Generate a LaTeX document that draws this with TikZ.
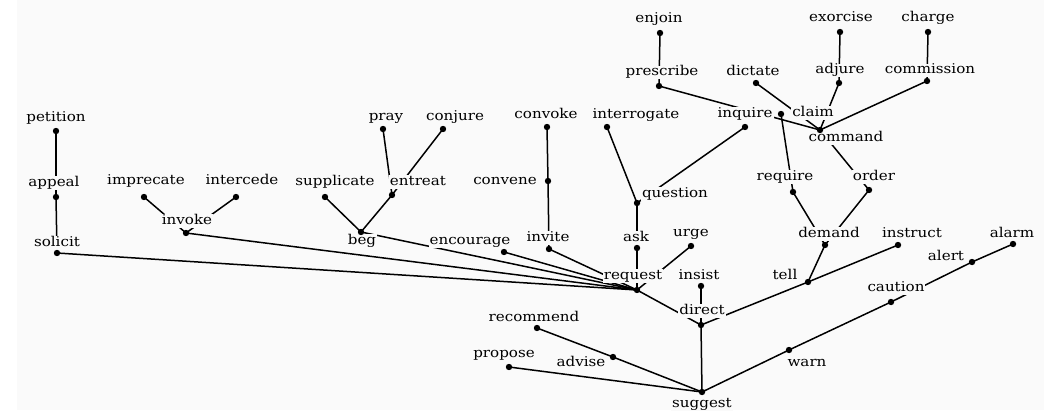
\documentclass[tikz,border=0pt]{standalone}
\usepackage{fontspec}
\setmainfont[FakeStretch=1.12]{DejaVu Serif}
\definecolor{bg}{RGB}{250,250,250}
\begin{document}
\begin{tikzpicture}[x=1pt,y=-1pt,
  lab/.style={fill=bg,inner xsep=1pt,inner ysep=0.5pt,text height=9.5pt,text depth=3pt,anchor=base,font=\fontsize{13.5}{14}\selectfont},
  link/.style={line width=1.5pt},
  dot/.style={fill=black}]
\useasboundingbox (0,0) rectangle (1044,412);
\fill[bg] (17,0) rectangle (1044,410);
% dot positions
\coordinate (dpetition) at (56,131);
\coordinate (dappeal) at (56,197);
\coordinate (dsolicit) at (57,253);
\coordinate (dimprecate) at (144,197);
\coordinate (dintercede) at (236,197);
\coordinate (dinvoke) at (186,233);
\coordinate (dsupplicate) at (325,197);
\coordinate (dentreat) at (392,195);
\coordinate (dpray) at (383,129);
\coordinate (dconjure) at (443,129);
\coordinate (dbeg) at (361,232);
\coordinate (dconvoke) at (547,127);
\coordinate (dconvene) at (548,181);
\coordinate (dinvite) at (549,249);
\coordinate (dencourage) at (504,252);
\coordinate (dinterrogate) at (607,127);
\coordinate (dquestion) at (637,203);
\coordinate (dask) at (637,248);
\coordinate (durge) at (691,246);
\coordinate (drequest) at (637,290);
\coordinate (dinsist) at (701,286);
\coordinate (ddirect) at (701,325);
\coordinate (dsuggest) at (702,392);
\coordinate (drecommend) at (537,328);
\coordinate (dadvise) at (613,357);
\coordinate (dpropose) at (509,367);
\coordinate (denjoin) at (660,33);
\coordinate (dprescribe) at (659,86);
\coordinate (ddictate) at (756,83);
\coordinate (dexorcise) at (840,32);
\coordinate (dadjure) at (839,83);
\coordinate (dcharge) at (928,32);
\coordinate (dcommission) at (927,81);
\coordinate (dinquire) at (745,127);
\coordinate (dclaim) at (781,114);
\coordinate (dcommand) at (820,130);
\coordinate (drequire) at (793,192);
\coordinate (dorder) at (869,190);
\coordinate (ddemand) at (825,245);
\coordinate (dtell) at (808,282);
\coordinate (dinstruct) at (898,245);
\coordinate (dwarn) at (789,350);
\coordinate (dcaution) at (891,302);
\coordinate (dalert) at (972,262);
\coordinate (dalarm) at (1013,244);
% connectors
\foreach \a/\b in {petition/appeal,appeal/solicit,solicit/request,imprecate/invoke,
  intercede/invoke,invoke/request,supplicate/beg,entreat/beg,pray/entreat,conjure/entreat,
  beg/request,convoke/convene,convene/invite,invite/request,encourage/request,
  interrogate/question,inquire/question,question/ask,ask/request,urge/request,
  request/direct,insist/direct,direct/suggest,direct/tell,tell/instruct,demand/tell,
  require/demand,order/demand,command/order,claim/require,prescribe/command,
  dictate/command,adjure/command,commission/command,enjoin/prescribe,exorcise/adjure,
  charge/commission,suggest/warn,warn/caution,caution/alert,alert/alarm,
  recommend/advise,advise/suggest,propose/suggest}
  \draw[link] (d\a) -- (d\b);
% labels
\node[lab] (petition) at (56,121) {petition};
\node[lab] (appeal) at (54,186) {appeal};
\node[lab] (imprecate) at (146,184) {imprecate};
\node[lab] (intercede) at (242,184) {intercede};
\node[lab] (invoke) at (187,224) {invoke};
\node[lab] (solicit) at (57,246) {solicit};
\node[lab] (supplicate) at (335,185) {supplicate};
\node[lab] (entreat) at (418,185) {entreat};
\node[lab] (pray) at (386,120) {pray};
\node[lab] (conjure) at (455,120) {conjure};
\node[lab] (convoke) at (546,118) {convoke};
\node[lab] (convene) at (505,184) {convene};
\node[lab] (beg) at (362,244) {beg};
\node[lab] (encourage) at (470,244) {encourage};
\node[lab] (invite) at (548,241) {invite};
\node[lab] (interrogate) at (636,118) {interrogate};
\node[lab] (ask) at (636,241) {ask};
\node[lab] (question) at (675,197) {question};
\node[lab] (urge) at (691,236) {urge};
\node[lab] (request) at (633,279) {request};
\node[lab] (insist) at (699,279) {insist};
\node[lab] (direct) at (702,314) {direct};
\node[lab] (recommend) at (534,321) {recommend};
\node[lab] (propose) at (504,357) {propose};
\node[lab] (advise) at (581,366) {advise};
\node[lab] (suggest) at (702,407) {suggest};
\node[lab] (enjoin) at (659,23) {enjoin};
\node[lab] (prescribe) at (662,76) {prescribe};
\node[lab] (dictate) at (753,75) {dictate};
\node[lab] (exorcise) at (841,22) {exorcise};
\node[lab] (adjure) at (840,74) {adjure};
\node[lab] (charge) at (928,22) {charge};
\node[lab] (commission) at (930,74) {commission};
\node[lab] (inquire) at (745,117) {inquire};
\node[lab] (claim) at (813,116) {claim};
\node[lab] (command) at (846,141) {command};
\node[lab] (require) at (785,180) {require};
\node[lab] (order) at (874,180) {order};
\node[lab] (demand) at (829,237) {demand};
\node[lab] (instruct) at (912,237) {instruct};
\node[lab] (tell) at (785,279) {tell};
\node[lab] (alarm) at (1012,237) {alarm};
\node[lab] (alert) at (946,260) {alert};
\node[lab] (caution) at (896,291) {caution};
\node[lab] (warn) at (807,366) {warn};
% dots
\foreach \d in {petition,appeal,solicit,imprecate,intercede,invoke,supplicate,entreat,
  pray,conjure,beg,convoke,convene,invite,encourage,interrogate,question,ask,urge,
  request,insist,direct,suggest,recommend,advise,propose,enjoin,prescribe,dictate,
  exorcise,adjure,charge,commission,inquire,claim,command,require,order,demand,tell,
  instruct,warn,caution,alert,alarm}
  \fill[dot] (d\d) circle (3.2pt);
\end{tikzpicture}
\end{document}
